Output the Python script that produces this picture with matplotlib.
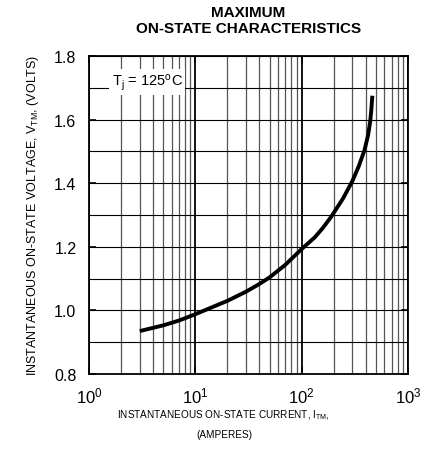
import matplotlib
matplotlib.use("Agg")
import matplotlib.pyplot as plt
from matplotlib.ticker import LogLocator, FixedLocator, NullFormatter

plt.rcParams['font.family'] = ['Liberation Sans', 'DejaVu Sans']
plt.rcParams['mathtext.fontset'] = 'custom'
plt.rcParams['mathtext.rm'] = 'Liberation Sans'
plt.rcParams['mathtext.it'] = 'Liberation Sans'

# Data (Tj = 125 C)
current_a = [3, 5, 7, 10, 20, 30, 40, 50, 70, 100, 132, 158, 190, 245, 300, 344,
             390, 422, 441, 452, 462]
voltage_v = [0.935, 0.953, 0.968, 0.988, 1.030, 1.059, 1.083, 1.104, 1.143, 1.193,
             1.229, 1.259, 1.295, 1.352, 1.407, 1.453, 1.504, 1.552, 1.594, 1.631, 1.675]

y_ticks = [0.8, 1.0, 1.2, 1.4, 1.6, 1.8]
y_tick_labels = ["0.8", "1.0", "1.2", "1.4", "1.6", "1.8"]
x_ticks = [1, 10, 100, 1000]
x_tick_labels = [r"$10^{0}$", r"$10^{1}$", r"$10^{2}$", r"$10^{3}$"]

fig = plt.figure(figsize=(4.27, 4.52), dpi=100)
ax = fig.add_axes([89/427, 1-375/452, 319/427, 318/452])

ax.set_xscale('log')
ax.set_xlim(1, 1000)
ax.set_ylim(0.8, 1.8)

# grid
ax.xaxis.set_minor_locator(LogLocator(base=10, subs=range(2, 10)))
ax.xaxis.set_minor_formatter(NullFormatter())
ax.yaxis.set_minor_locator(FixedLocator([0.9, 1.1, 1.3, 1.5, 1.7]))
ax.grid(True, which='major', axis='x', color='black', linewidth=1.3)
ax.grid(True, which='minor', axis='x', color='#555555', linewidth=0.9)
ax.grid(True, which='both', axis='y', color='black', linewidth=0.8)
ax.set_axisbelow(True)

ax.set_xticks(x_ticks)
ax.set_xticklabels(x_tick_labels)
ax.set_yticks(y_ticks)
ax.set_yticklabels(y_tick_labels)
ax.tick_params(which='major', direction='in', length=5, width=1.2,
               top=True, right=True)
ax.tick_params(axis='y', labelsize=11.5, pad=9)
ax.tick_params(axis='x', labelsize=12, pad=8)
ax.tick_params(which='minor', length=0)

for s in ax.spines.values():
    s.set_linewidth(1.3)

ax.plot(current_a, voltage_v, color='black', linewidth=2.8, solid_capstyle='butt',
        solid_joinstyle='round', zorder=5)

ax.text(0.182, 0.918, r"T$_{\rm j}$ = 125$^{\rm o}$C", transform=ax.transAxes,
        ha='center', va='center', fontsize=10.5,
        bbox=dict(facecolor='white', edgecolor='none', pad=2.0), zorder=6)

fig.text(248.5/427, 1-13/452, "MAXIMUM", ha='center', va='center', fontsize=11,
         fontweight='bold')
fig.text(248.5/427, 1-29/452, "ON-STATE CHARACTERISTICS", ha='center', va='center',
         fontsize=11, fontweight='bold')

fig.text(223/427, 1-415/452, r"INSTANTANEOUS ON-STATE CURRENT, I$_{\rm TM}$,", ha='center',
         va='center', fontsize=7.2)
fig.text(224/427, 1-435/452, "(AMPERES)", ha='center', va='center', fontsize=7.2)

fig.text(33/427, 1-215/452, r"INSTANTANEOUS ON-STATE VOLTAGE, V$_{\rm TM}$, (VOLTS)",
         ha='center', va='center', rotation=90, fontsize=9.0)

fig.savefig("out.png", dpi=100)
